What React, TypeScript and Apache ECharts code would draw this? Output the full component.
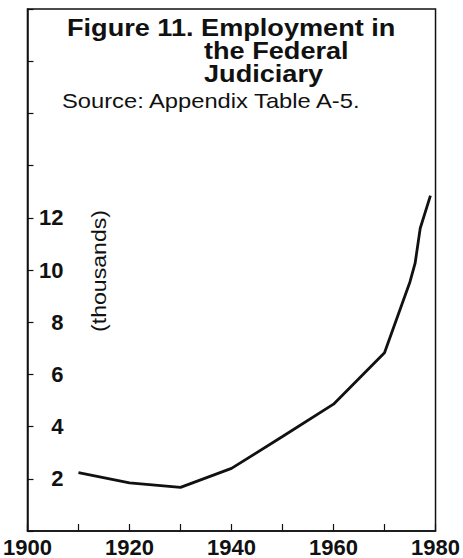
import React, { useEffect, useRef } from "react";
import * as echarts from "echarts";

const years = [1910, 1920, 1930, 1940, 1950, 1960, 1970, 1975, 1976, 1977, 1979];
const employment = [2.24, 1.84, 1.67, 2.4, 3.62, 4.86, 6.83, 9.55, 10.26, 11.6, 12.85];
const yLabeled = [2, 4, 6, 8, 10, 12];
const xLabeled = [1900, 1920, 1940, 1960, 1980];
const titleLines = ["Figure 11. Employment in", "the Federal", "Judiciary"];
const sourceText = "Source: Appendix Table A-5.";
const unitText = "(thousands)";

const FONT = '"Liberation Sans", Arial, Helvetica, sans-serif';
const TITLE_SCALE = 1.13;

export default function App() {
  const ref = useRef<HTMLDivElement>(null);
  useEffect(() => {
    if (!ref.current) return;
    const chart = echarts.init(ref.current, null, { renderer: "svg" });
    const indent = 137 / TITLE_SCALE;
    chart.setOption({
      animation: false,
      backgroundColor: "#ffffff",
      grid: {
        left: 26,
        right: 26,
        top: 9,
        bottom: 26,
        show: true,
        borderColor: "#111",
        borderWidth: 1.5,
      },
      xAxis: {
        type: "value",
        min: 1900,
        max: 1980,
        interval: 10,
        axisLine: { show: true, lineStyle: { color: "#111", width: 1.5 } },
        axisTick: { show: true, inside: true, length: 7, lineStyle: { color: "#111", width: 1.2 } },
        splitLine: { show: false },
        axisLabel: {
          margin: 5,
          color: "#111",
          fontFamily: FONT,
          fontWeight: "bold",
          fontSize: 22,
          showMinLabel: true,
          showMaxLabel: true,
          formatter: (v: number) => (xLabeled.includes(v) ? String(v) : ""),
        },
      },
      yAxis: {
        type: "value",
        min: 0,
        max: 20,
        interval: 2,
        axisLine: { show: true, lineStyle: { color: "#111", width: 1.5 } },
        axisTick: { show: true, inside: true, length: 6, lineStyle: { color: "#111", width: 1.2 } },
        splitLine: { show: false },
        axisLabel: {
          inside: true,
          margin: 36,
          align: "right",
          color: "#111",
          fontFamily: FONT,
          fontWeight: "bold",
          fontSize: 22,
          formatter: (v: number) => (yLabeled.includes(v) ? String(v) : ""),
        },
      },
      graphic: [
        {
          type: "text",
          x: 67,
          y: 16,
          scaleX: TITLE_SCALE,
          style: {
            text:
              `{a|${titleLines[0]}}\n` +
              `{sp| }{a|${titleLines[1]}}\n` +
              `{sp| }{a|${titleLines[2]}}`,
            fill: "#111",
            align: "left",
            verticalAlign: "top",
            rich: {
              a: { font: `bold 24px ${FONT}`, lineHeight: 23, fill: "#111" },
              sp: { font: `bold 24px ${FONT}`, width: indent, lineHeight: 23 },
            },
          },
        },
        {
          type: "text",
          x: 62,
          y: 90,
          scaleX: 1.13,
          style: {
            text: sourceText,
            font: `21px ${FONT}`,
            fill: "#111",
            align: "left",
            verticalAlign: "top",
          },
        },
        {
          type: "text",
          x: 99,
          y: 271,
          rotation: Math.PI / 2,
          scaleX: 1.1,
          style: {
            text: unitText,
            font: `21px ${FONT}`,
            fill: "#111",
            align: "center",
            verticalAlign: "middle",
          },
        },
      ],
      series: [
        {
          type: "line",
          data: years.map((y, i) => [y, employment[i]]),
          symbol: "none",
          lineStyle: { color: "#111", width: 2.8 },
        },
      ],
    });
    return () => chart.dispose();
  }, []);
  return <div ref={ref} style={{ width: 463, height: 558, position: "absolute", left: 0, top: 0 }} />;
}
